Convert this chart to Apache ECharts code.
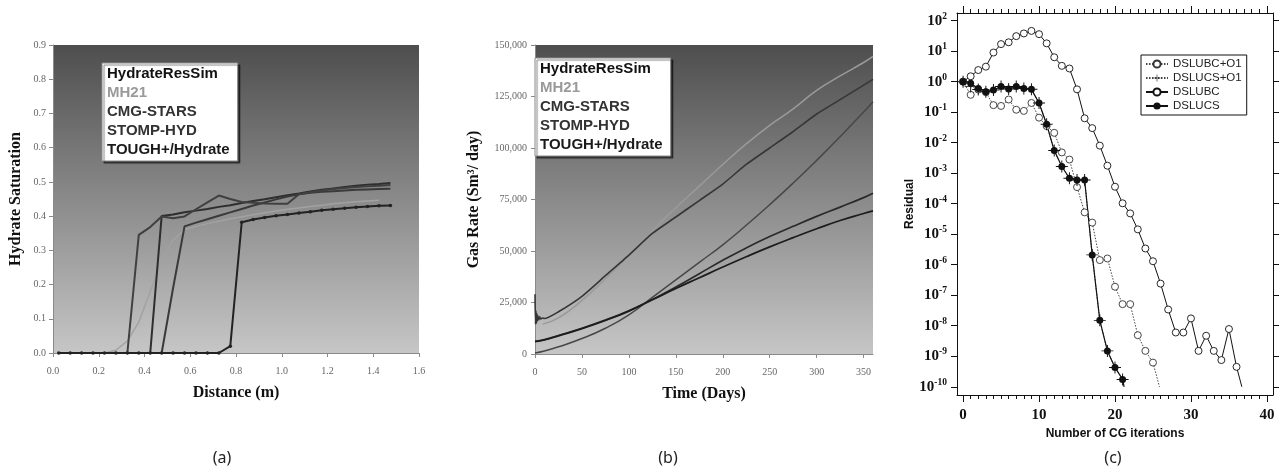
<!DOCTYPE html>
<html>
<head>
<meta charset="utf-8">
<script src="https://cdn.jsdelivr.net/npm/echarts@6/dist/echarts.min.js"></script>
<style>
  html, body { margin: 0; padding: 0; background: #fff; }
  #chart { width: 1285px; height: 476px; }
</style>
</head>
<body>
<div id="chart"></div>
<script>
// ---- (a) hydrate saturation vs distance ----
var distance = [0.025,0.075,0.125,0.175,0.225,0.275,0.325,0.375,0.425,0.475,0.525,0.575,0.625,0.675,0.725,
                0.775,0.825,0.875,0.925,0.975,1.025,1.075,1.125,1.175,1.225,1.275,1.325,1.375,1.425,1.475];
var satHydrateResSim = [0,0,0,0,0,0,0,0,0,0.400,0.405,0.411,0.416,0.421,0.427,0.432,0.438,0.444,0.449,0.455,
                        0.461,0.466,0.472,0.477,0.481,0.485,0.489,0.492,0.494,0.497];
var satMH21 = [0,0,0,0,0,0.008,0.035,0.09,0.18,0.27,0.33,0.36,0.37,0.378,0.385,0.392,0.398,0.404,0.41,0.415,
               0.42,0.424,0.428,0.432,0.436,0.439,0.442,0.444,0.446,null];
var satCMG = [0,0,0,0,0,0,0,0,0,0,0.19,0.37,0.381,0.391,0.401,0.411,0.421,0.431,0.44,0.449,
              0.457,0.464,0.468,0.471,0.473,0.475,0.477,0.478,0.479,0.48];
var satSTOMP = [0,0,0,0,0,0,0,0.345,0.368,0.399,0.394,0.399,0.42,0.44,0.46,0.45,0.441,0.439,0.437,0.436,
                0.436,0.464,0.47,0.475,0.479,0.482,0.485,0.487,0.489,0.491];
var satTOUGH = [0,0,0,0,0,0,0,0,0,0,0,0,0,0,0,0.02,0.382,0.39,0.396,0.401,
                0.405,0.409,0.413,0.417,0.42,0.423,0.426,0.428,0.43,0.431];

// ---- (b) gas rate vs time ----
var hrsDays = [0,0.5,1,1.5,2,2.5,3,4,5,6,8,10,25,50,75,100,125,150,175,200,225,250,275,300,325,350,360];
var rateHydrateResSim = [29000,14500,21000,15000,19500,16000,18500,16500,18000,17000,17500,17200,20500,28000,38000,
                         48000,58500,66500,74500,82500,92000,100000,108000,116500,123500,130500,133300];
var mh21Days = [8,25,50,75,100,125,150,175,200,225,250,275,300,325,350,360];
var rateMH21 = [14500,17500,26000,36500,48000,60000,71000,81500,92000,102000,111000,119000,128000,135000,141500,144500];
var days = [0,10,25,50,75,100,125,150,175,200,225,250,275,300,325,350,360];
var rateCMG = [500,1500,3500,7500,12500,19000,27500,36000,44500,53000,62500,72500,83000,94000,105500,117500,122500];
var rateSTOMP = [6200,7000,9000,12500,16500,21000,26500,32500,39000,45500,51500,57000,62000,66800,71300,75900,78000];
var rateTOUGH = [6000,6800,8800,12300,16300,20800,26300,31800,37000,42200,47200,52000,56500,60800,64800,68200,69500];

// ---- (c) residual vs CG iterations (last point of each run is the bare line end) ----
var iterUBC = [0,1,2,3,4,5,6,7,8,9,10,11,12,13,14,15,16,17,18,19,20,21,22,23,24,25,26,27,28,29,30,31,32,33,34,35,36,36.7];
var resUBC = [1.0,1.5,2.4,3.1,9,17,19.5,31,38,46,36,18,6.3,3.3,2.7,0.56,0.063,0.030,0.008,1.76e-3,3.6e-4,1.03e-4,
              4.8e-5,1.44e-5,3.4e-6,1.3e-6,2.4e-7,3.4e-8,6e-9,6e-9,1.74e-8,1.5e-9,4.7e-9,1.5e-9,7.5e-10,7.8e-9,4.5e-10,1e-10];
var iterUBCO1 = [0,1,2,3,4,5,6,7,8,9,10,11,12,13,14,15,16,17,18,19,20,21,22,23,24,25,25.85];
var resUBCO1 = [1.0,0.37,0.55,0.45,0.17,0.16,0.26,0.12,0.11,0.2,0.066,0.035,0.021,4.8e-3,2.8e-3,3.5e-4,5.2e-5,2.4e-5,
                1.42e-6,1.6e-6,1.9e-7,5.1e-8,5.1e-8,4.9e-9,1.5e-9,6.2e-10,1e-10];
var iterUCS = [0,1,2,3,4,5,6,7,8,9,10,11,12,13,14,15,16,17,18,19,20,21,21.2];
var resUCS = [1.0,0.88,0.6,0.47,0.53,0.69,0.57,0.69,0.6,0.56,0.2,0.04,5.5e-3,1.65e-3,6.8e-4,6e-4,6e-4,2.1e-6,
              1.5e-8,1.5e-9,4.3e-10,1.74e-10,1e-10];
var iterUCSO1 = [0,1,2,3,4,5,6,7,8,9,10,11,12,13,14,15,16,17,18,19,20,21];
var resUCSO1 = [1.0,0.7,0.55,0.47,0.53,0.69,0.57,0.69,0.6,0.56,0.2,0.04,5.5e-3,1.65e-3,6.8e-4,6e-4,6e-4,2.1e-6,
                1.5e-8,1.5e-9,4.3e-10,1.74e-10];
var decades = [-10,-9,-8,-7,-6,-5,-4,-3,-2,-1,0,1,2];
var iterMajor = [0,10,20,30,40];
var iterMinor = [];
for (var k = 0; k <= 40; k++) iterMinor.push(k);

var legendNames = ['HydrateResSim','MH21','CMG-STARS','STOMP-HYD','TOUGH+/Hydrate'];
var legendColors = ['#111','#9a9a9a','#333','#333','#1a1a1a'];
var cgNames = ['DSLUBC+O1','DSLUCS+O1','DSLUBC','DSLUCS'];

function pairs(xs, ys) {
  return xs.map(function (x, i) { return [x, ys[i]]; });
}
// residuals drawn on exponent scale; the last entry has no marker if bareEnd
function logPairs(xs, ys, bareEnd) {
  return xs.map(function (x, i) {
    var p = [x, Math.log10(ys[i])];
    if (bareEnd && i === xs.length - 1) return { value: p, symbol: 'none' };
    return p;
  });
}

var grad = {
  type: 'linear', x: 0, y: 0, x2: 0, y2: 1,
  colorStops: [{ offset: 0, color: '#4e4e4e' }, { offset: 1, color: '#c6c6c6' }]
};
var serifLabel = { color: '#666', fontFamily: 'Liberation Serif', fontSize: 10 };
var grayLine = { lineStyle: { color: '#8a8a8a' } };
var nameStyle = { fontFamily: 'Liberation Serif', fontWeight: 'bold', fontSize: 16, color: '#111' };

function boxLegend(left, top) {
  return {
    left: left, top: top, orient: 'vertical', selectedMode: false,
    icon: 'none', itemWidth: 0, itemHeight: 14, itemGap: 4,
    backgroundColor: '#fff', borderColor: '#888', borderWidth: 1,
    shadowColor: 'rgba(0,0,0,0.5)', shadowOffsetX: 2, shadowOffsetY: 2, shadowBlur: 1,
    padding: [3, 8, 4, 0],
    textStyle: { fontFamily: 'Liberation Sans', fontWeight: 'bold', fontSize: 15 },
    data: legendNames.map(function (n, i) {
      return { name: n, textStyle: { color: legendColors[i] } };
    })
  };
}

var cgAxisBase = { gridIndex: 2, type: 'value', min: -0.8, max: 40.8, splitLine: { show: false } };
var resAxisBase = { gridIndex: 2, type: 'value', min: -10.27, max: 2.25, splitLine: { show: false } };
var blackLine = { onZero: false, lineStyle: { color: '#111', width: 1 } };
var noLine = { show: false, onZero: false };

var myChart = echarts.init(document.getElementById('chart'));

var option = {
  animation: false,
  backgroundColor: '#fff',
  grid: [
    { left: 53, top: 45, width: 366, height: 308, show: true, backgroundColor: grad, borderWidth: 0 },
    { left: 535, top: 45, width: 338, height: 309, show: true, backgroundColor: grad, borderWidth: 0 },
    { left: 957, top: 13, width: 316, height: 382 }
  ],
  legend: [
    boxLegend(102, 63),
    boxLegend(535, 58),
    {
      left: 1141, top: 55, orient: 'vertical', selectedMode: false,
      backgroundColor: '#fff', borderColor: '#111', borderWidth: 1,
      padding: [3, 5, 3, 4], itemGap: 2, itemWidth: 22, itemHeight: 9,
      textStyle: { fontFamily: 'Liberation Sans', fontSize: 11.5, color: '#222' },
      data: cgNames
    }
  ],
  xAxis: [
    { gridIndex: 0, type: 'value', min: 0, max: 1.6, interval: 0.2,
      name: 'Distance (m)', nameLocation: 'middle', nameGap: 32, nameTextStyle: nameStyle,
      axisLine: grayLine, axisTick: { length: 4, lineStyle: { color: '#8a8a8a' } },
      axisLabel: Object.assign({ margin: 13, formatter: function (v) { return v.toFixed(1); } }, serifLabel),
      splitLine: { show: false } },
    { gridIndex: 1, type: 'value', min: 0, max: 360, interval: 50,
      name: 'Time (Days)', nameLocation: 'middle', nameGap: 32, nameTextStyle: nameStyle,
      axisLine: grayLine, axisTick: { length: 4, lineStyle: { color: '#8a8a8a' } },
      axisLabel: Object.assign({ margin: 13, showMaxLabel: false }, serifLabel),
      splitLine: { show: false } },
    Object.assign({}, cgAxisBase, {
      position: 'bottom',
      name: 'Number of CG iterations', nameLocation: 'middle', nameGap: 33,
      nameTextStyle: { fontFamily: 'Liberation Sans', fontWeight: 'bold', fontSize: 12, color: '#111' },
      axisLine: blackLine,
      axisTick: { length: 7, customValues: iterMajor, lineStyle: { color: '#111' } },
      axisLabel: { customValues: iterMajor, margin: 13, fontFamily: 'Liberation Serif', fontWeight: 'bold', fontSize: 15, color: '#111' }
    }),
    Object.assign({}, cgAxisBase, {
      position: 'bottom', axisLine: noLine,
      axisTick: { length: 4, customValues: iterMinor, lineStyle: { color: '#111' } },
      axisLabel: { show: false }
    }),
    Object.assign({}, cgAxisBase, {
      position: 'top', axisLine: blackLine,
      axisTick: { length: 7, customValues: iterMajor, lineStyle: { color: '#111' } },
      axisLabel: { show: false }
    }),
    Object.assign({}, cgAxisBase, {
      position: 'top', axisLine: noLine,
      axisTick: { length: 4, customValues: iterMinor, lineStyle: { color: '#111' } },
      axisLabel: { show: false }
    })
  ],
  yAxis: [
    { gridIndex: 0, type: 'value', min: 0, max: 0.9, interval: 0.1,
      name: 'Hydrate Saturation', nameLocation: 'middle', nameGap: 29, nameTextStyle: nameStyle,
      axisLine: { show: true, lineStyle: { color: '#8a8a8a' } },
      axisTick: { show: true, length: 4, lineStyle: { color: '#8a8a8a' } },
      axisLabel: Object.assign({ margin: 7, formatter: function (v) { return v.toFixed(1); } }, serifLabel),
      splitLine: { show: false } },
    { gridIndex: 1, type: 'value', min: 0, max: 150000, interval: 25000,
      name: 'Gas Rate (Sm³/ day)', nameLocation: 'middle', nameGap: 53, nameTextStyle: nameStyle,
      axisLine: { show: true, lineStyle: { color: '#8a8a8a' } },
      axisTick: { show: true, length: 4, lineStyle: { color: '#8a8a8a' } },
      axisLabel: Object.assign({ margin: 8, formatter: function (v) { return v.toLocaleString('en-US'); } }, serifLabel),
      splitLine: { show: false } },
    Object.assign({}, resAxisBase, {
      position: 'left',
      name: 'Residual', nameLocation: 'middle', nameGap: 38,
      nameTextStyle: { fontFamily: 'Liberation Sans', fontWeight: 'bold', fontSize: 12, color: '#111' },
      axisLine: { show: true, onZero: false, lineStyle: { color: '#111', width: 1 } },
      axisTick: { show: true, length: 6, customValues: decades, lineStyle: { color: '#111' } },
      axisLabel: {
        customValues: decades, margin: 10,
        formatter: function (v) { return '{b|10}{s|' + v + '}'; },
        rich: {
          b: { fontFamily: 'Liberation Serif', fontWeight: 'bold', fontSize: 15, color: '#111' },
          s: { fontFamily: 'Liberation Serif', fontWeight: 'bold', fontSize: 9.5, color: '#111', verticalAlign: 'top', padding: [0, 0, 9, 0] }
        }
      }
    }),
    Object.assign({}, resAxisBase, {
      position: 'right',
      axisLine: { show: true, onZero: false, lineStyle: { color: '#111', width: 1 } },
      axisTick: { show: true, length: 6, customValues: decades, lineStyle: { color: '#111' } },
      axisLabel: { show: false }
    })
  ],
  series: [
    // (a)
    { name: 'MH21', type: 'line', xAxisIndex: 0, yAxisIndex: 0, data: pairs(distance, satMH21),
      showSymbol: false, lineStyle: { color: '#a2a2a2', width: 1.5 }, itemStyle: { color: '#a2a2a2' } },
    { name: 'HydrateResSim', type: 'line', xAxisIndex: 0, yAxisIndex: 0, data: pairs(distance, satHydrateResSim),
      showSymbol: false, lineStyle: { color: '#2e2e2e', width: 2 }, itemStyle: { color: '#2e2e2e' } },
    { name: 'CMG-STARS', type: 'line', xAxisIndex: 0, yAxisIndex: 0, data: pairs(distance, satCMG),
      showSymbol: false, lineStyle: { color: '#3a3a3a', width: 2 }, itemStyle: { color: '#3a3a3a' } },
    { name: 'STOMP-HYD', type: 'line', xAxisIndex: 0, yAxisIndex: 0, data: pairs(distance, satSTOMP),
      showSymbol: false, lineStyle: { color: '#404040', width: 2 }, itemStyle: { color: '#404040' } },
    { name: 'TOUGH+/Hydrate', type: 'line', xAxisIndex: 0, yAxisIndex: 0, data: pairs(distance, satTOUGH),
      symbol: 'circle', symbolSize: 3.5, lineStyle: { color: '#222', width: 2 }, itemStyle: { color: '#222' } },
    // (b)
    { name: 'MH21', type: 'line', xAxisIndex: 1, yAxisIndex: 1, data: pairs(mh21Days, rateMH21), smooth: true,
      showSymbol: false, lineStyle: { color: '#9a9a9a', width: 1.5 }, itemStyle: { color: '#9a9a9a' } },
    { name: 'HydrateResSim', type: 'line', xAxisIndex: 1, yAxisIndex: 1, data: pairs(hrsDays, rateHydrateResSim), smooth: 0.2,
      showSymbol: false, lineStyle: { color: '#363636', width: 1.6 }, itemStyle: { color: '#363636' } },
    { name: 'CMG-STARS', type: 'line', xAxisIndex: 1, yAxisIndex: 1, data: pairs(days, rateCMG), smooth: true,
      showSymbol: false, lineStyle: { color: '#474747', width: 1.5 }, itemStyle: { color: '#474747' } },
    { name: 'STOMP-HYD', type: 'line', xAxisIndex: 1, yAxisIndex: 1, data: pairs(days, rateSTOMP), smooth: true,
      showSymbol: false, lineStyle: { color: '#2a2a2a', width: 1.7 }, itemStyle: { color: '#2a2a2a' } },
    { name: 'TOUGH+/Hydrate', type: 'line', xAxisIndex: 1, yAxisIndex: 1, data: pairs(days, rateTOUGH), smooth: true,
      showSymbol: false, lineStyle: { color: '#1c1c1c', width: 1.7 }, itemStyle: { color: '#1c1c1c' } },
    // (c)
    { name: 'DSLUBC+O1', type: 'line', xAxisIndex: 2, yAxisIndex: 2, data: logPairs(iterUBCO1, resUBCO1, true),
      symbol: 'circle', symbolSize: 7, lineStyle: { color: '#444', width: 1, type: [1.5, 1.5] },
      itemStyle: { color: '#fff', borderColor: '#333', borderWidth: 0.9 } },
    { name: 'DSLUCS+O1', type: 'line', xAxisIndex: 2, yAxisIndex: 2, data: logPairs(iterUCSO1, resUCSO1, false),
      symbol: 'path://M4.6,0H5.4V4.6H10V5.4H5.4V10H4.6V5.4H0V4.6H4.6Z', symbolSize: 12,
      lineStyle: { color: '#444', width: 1, type: [1.5, 1.5] }, itemStyle: { color: '#111' } },
    { name: 'DSLUBC', type: 'line', xAxisIndex: 2, yAxisIndex: 2, data: logPairs(iterUBC, resUBC, true),
      symbol: 'circle', symbolSize: 7, lineStyle: { color: '#111', width: 1 },
      itemStyle: { color: '#fff', borderColor: '#111', borderWidth: 0.9 } },
    { name: 'DSLUCS', type: 'line', xAxisIndex: 2, yAxisIndex: 2, data: logPairs(iterUCS, resUCS, true),
      symbol: 'circle', symbolSize: 7, lineStyle: { color: '#111', width: 1.2 }, itemStyle: { color: '#111' } }
  ],
  graphic: [
    { type: 'text', x: 222, y: 458, style: { text: '(a)', textAlign: 'center', textVerticalAlign: 'middle', font: '16px "Noto Sans"', fill: '#222' } },
    { type: 'text', x: 668, y: 458, style: { text: '(b)', textAlign: 'center', textVerticalAlign: 'middle', font: '16px "Noto Sans"', fill: '#222' } },
    { type: 'text', x: 1113, y: 458, style: { text: '(c)', textAlign: 'center', textVerticalAlign: 'middle', font: '16px "Noto Sans"', fill: '#222' } }
  ]
};

myChart.setOption(option);
</script>
</body>
</html>
